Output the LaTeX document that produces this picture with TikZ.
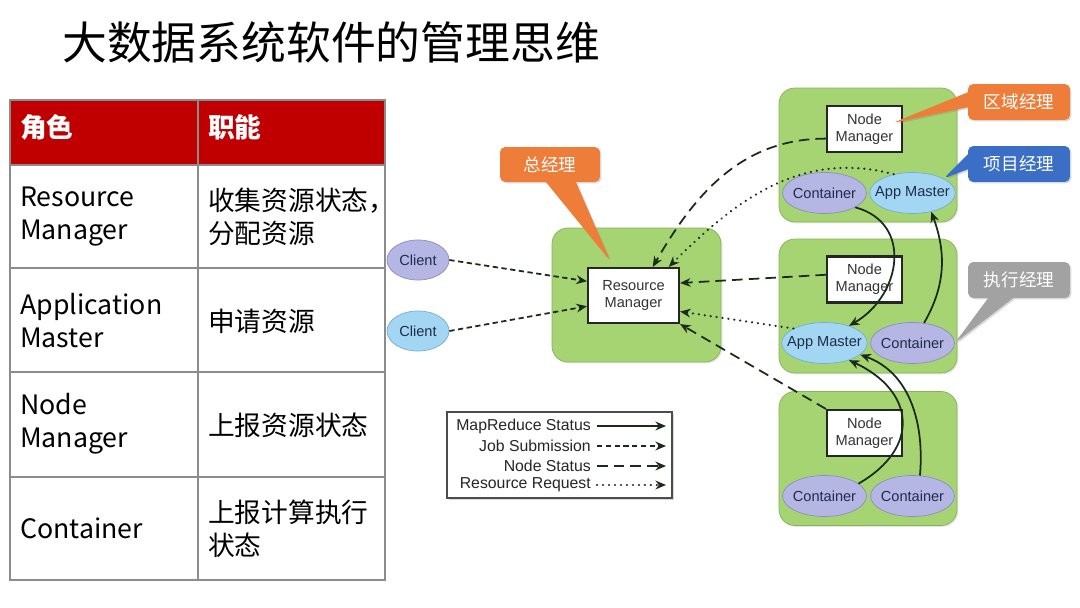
\documentclass[tikz,border=0pt]{standalone}
\usepackage{fontspec}
\setmainfont{Liberation Sans}
\newfontfamily\cjk{Noto Sans CJK SC}
\usetikzlibrary{shapes.geometric,shapes.callouts,arrows.meta,shadows,calc}

\definecolor{hdred}{HTML}{C00000}
\definecolor{gridc}{HTML}{8C8C8C}
\definecolor{grpfill}{HTML}{A6D472}
\definecolor{grpline}{HTML}{86B25A}
\definecolor{ctrfill}{HTML}{B5B6E4}
\definecolor{ctrline}{HTML}{8C8DC4}
\definecolor{apmfill}{HTML}{A3D6F2}
\definecolor{apmline}{HTML}{74AED6}
\definecolor{labelnavy}{HTML}{1F2C4C}
\definecolor{arrowc}{HTML}{1C2A1C}
\definecolor{tagorange}{HTML}{EE7D3A}
\definecolor{tagblue}{HTML}{3B6FC6}
\definecolor{taggray}{HTML}{A2A2A2}

\tikzset{
  grp/.style={draw=grpline, fill=grpfill, rounded corners=9pt, minimum width=35.6mm,
    minimum height=26.8mm, drop shadow={opacity=.2, shadow xshift=.8pt, shadow yshift=-.8pt}},
  mgr/.style={draw=black!85, line width=1.2pt, fill=white, align=center, inner sep=1pt,
    minimum width=15mm, minimum height=9.2mm, font=\fontsize{8.3}{9.6}\selectfont, text=black!80},
  ctr/.style={ellipse, draw=ctrline, fill=ctrfill, inner xsep=-4pt, inner ysep=0pt, minimum width=16.8mm,
    minimum height=8.2mm, font=\fontsize{8.3}{10}\selectfont, text=labelnavy},
  apm/.style={ctr, draw=apmline, fill=apmfill},
  tag/.style={rectangle callout, rounded corners=3pt, text=white, font=\cjk\fontsize{10}{12}\selectfont,
    minimum width=20.4mm, minimum height=7.2mm, callout pointer width=3mm,
    drop shadow={opacity=.3, shadow xshift=.8pt, shadow yshift=-.8pt}},
  mrstat/.style={-{Stealth[length=6pt,width=5pt]}, line width=1pt, draw=arrowc},
  jobsub/.style={mrstat, dash pattern=on 3pt off 2pt},
  nodestat/.style={mrstat, dash pattern=on 6pt off 3.5pt},
  resreq/.style={mrstat, line width=1.3pt, line cap=round, dash pattern=on .1pt off 3.3pt},
  cell/.style={anchor=west, align=left, font=\cjk\fontsize{15.2}{18.8}\selectfont},
  lgtext/.style={anchor=east, font=\fontsize{9}{10}\selectfont, text=black!85}
}

\begin{document}
\begin{tikzpicture}[x=0.02cm,y=-0.02cm]
  \useasboundingbox[fill=white] (0,0) rectangle (1080,608);

  % title
  \node[anchor=west, font=\cjk\fontsize{25.5}{30}\selectfont] (title) at (56,42) {大数据系统软件的管理思维};

  % table
  \fill[hdred] (10,100) rectangle (385,165);
  \draw[gridc, line width=.8pt] (10,100) rectangle (385,580);
  \draw[gridc, line width=.8pt] (198,100) -- (198,580);
  \foreach \y in {165,268,372,477} \draw[gridc, line width=.8pt] (10,\y) -- (385,\y);
  \node[cell, text=white, font=\cjk\bfseries\fontsize{15.2}{18.8}\selectfont] (hrole) at (14,127) {角色};
  \node[cell, text=white, font=\cjk\bfseries\fontsize{15.2}{18.8}\selectfont] (hfunc) at (202,127) {职能};
  \node[cell] (r1) at (14,217) {Resource\\Manager};
  \node[cell] (f1) at (202,217) {收集资源状态，\\分配资源};
  \node[cell] (r2) at (14,321) {Application\\Master};
  \node[cell] (f2) at (202,321) {申请资源};
  \node[cell] (r3) at (14,424) {Node\\Manager};
  \node[cell] (f3) at (202,425) {上报资源状态};
  \node[cell] (r4) at (14,528) {Container};
  \node[cell] (f4) at (202,529) {上报计算执行\\状态};

  % groups
  \node[grp, minimum width=33.8mm] (rmgrp) at (636.5,295) {};
  \node[grp] (grp1) at (868,155) {};
  \node[grp] (grp2) at (868,306) {};
  \node[grp] (grp3) at (868,458.5) {};

  % nodes
  \node[mgr, minimum width=18.2mm, minimum height=11mm] (rm) at (633.5,295.5) {Resource\\Manager};
  \node[ctr, minimum width=12.4mm, minimum height=8mm] (cl1) at (418,260) {Client};
  \node[apm, minimum width=12.4mm, minimum height=8mm] (cl2) at (418,331) {Client};
  \node[mgr] (nm1) at (864.5,129) {Node\\Manager};
  \node[ctr] (c1) at (824.5,193) {Container};
  \node[apm] (am1) at (912.5,193) {App Master};
  \node[mgr] (nm2) at (864.5,279.5) {Node\\Manager};
  \node[apm] (am2) at (824.5,343) {App Master};
  \node[ctr] (c2) at (912.5,343) {Container};
  \node[mgr] (nm3) at (864.5,433) {Node\\Manager};
  \node[ctr] (c3) at (824.5,496) {Container};
  \node[ctr] (c4) at (912.5,496) {Container};

  % connectors
  \draw[jobsub] (cl1.east) -- (rm.163);
  \draw[jobsub] (cl2.east) -- (rm.193);
  \draw[nodestat] (nm1.194) to[out=180, in=60] (rm.56);
  \draw[resreq] (am1.135) to[out=165, in=45] (rm.39);
  \draw[nodestat] (nm2.173) -- (rm.15);
  \draw[resreq] (am2.155) -- (rm.341);
  \draw[nodestat] (nm3.north west) -- (rm.south east);
  \draw[mrstat] (c1.-25) to[out=-15, in=30, looseness=1.3] (am2.35);
  \draw[mrstat] (c2.60) to[out=60, in=-70] (am1.-45);
  \draw[mrstat] (c3.20) to[out=30, in=-25, looseness=1.5] (am2.-35);
  \draw[mrstat] (c4.70) to[out=85, in=-20] (am2.-18);

  % legend
  \node[draw=black!70, line width=1.2pt, fill=white, minimum width=45mm, minimum height=17.2mm,
    drop shadow={opacity=.3, shadow xshift=1pt, shadow yshift=-1pt}] (legend) at (559.5,455) {};
  \node[lgtext] (lg1) at (597,426) {MapReduce Status};
  \node[lgtext] (lg2) at (597,446) {Job Submission};
  \node[lgtext] (lg3) at (597,466) {Node Status};
  \node[lgtext] (lg4) at (597,485) {Resource Request};
  \coordinate (lg1e) at (666,426);
  \coordinate (lg2e) at (666,446);
  \coordinate (lg3e) at (666,466);
  \coordinate (lg4e) at (666,485);
  \draw[mrstat] (lg1) -- (lg1e);
  \draw[jobsub] (lg2) -- (lg2e);
  \draw[nodestat] (lg3) -- (lg3e);
  \draw[resreq] (lg4) -- (lg4e);

  % callouts
  \node[tag, fill=tagorange, minimum width=20mm, minimum height=7mm, callout pointer width=6mm,
    callout absolute pointer={($(rm.north)!0.5!(rm.north west)+(0,-6)$)}] (gm) at (550,164.5) {总经理};
  \node[tag, fill=tagorange, callout absolute pointer={($(nm1.center)+(28,-6)$)}] (zone) at (1019,102) {区域经理};
  \node[tag, fill=tagblue, callout absolute pointer={(am1.25)}] (proj) at (1019,164) {项目经理};
  \node[tag, fill=taggray, callout pointer width=5mm, callout absolute pointer={(c2.east)}] (exec) at (1019,280) {执行经理};
\end{tikzpicture}
\end{document}
